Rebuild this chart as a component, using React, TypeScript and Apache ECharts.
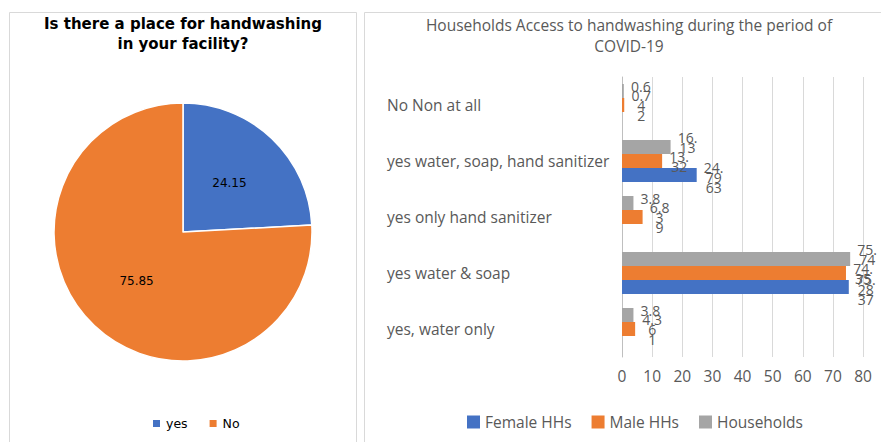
import React, { useEffect, useRef } from "react";
import * as echarts from "echarts";

const pieNames = ["yes", "No"];
const pieValues = [24.15, 75.85];

const categories = [
  "No Non at all",
  "yes water, soap, hand sanitizer",
  "yes only hand sanitizer",
  "yes water & soap",
  "yes, water only",
];
const seriesNames = ["Female HHs", "Male HHs", "Households"];
const femaleValues = [null, 24.7963, null, 75.2837, null];
const maleValues = [0.742, 13.32, 6.839, 74.35, 4.361];
const householdValues = [0.6, 16.13, 3.8, 75.74, 3.8];
const femaleLabels = ["", "24.\n79\n63", "", "75.\n28\n37", ""];
const maleLabels = ["0.7\n4\n2", "13.\n32", "6.8\n3\n9", "74.\n35", "4.3\n6\n1"];
const householdLabels = ["0.6", "16.\n13", "3.8", "75.\n74", "3.8"];
const xTicks = { min: 0, max: 80, interval: 10 };

const BLUE = "#4472C4";
const ORANGE = "#ED7D31";
const GRAY = "#A5A5A5";
const TXT = "#595959";
const FONT = "Open Sans";
const FS = 15.5;

export default function App() {
  const ref = useRef<HTMLDivElement>(null);
  useEffect(() => {
    if (!ref.current) return;
    const chart = echarts.init(ref.current, null, { renderer: "svg" });
    const barLabel = (arr: string[], dy: number) => ({
      show: true,
      position: "right",
      distance: 7,
      formatter: (p: any) => arr[p.dataIndex],
      fontFamily: FONT,
      fontSize: 14,
      lineHeight: 10,
      color: TXT,
      align: "center",
      offset: [10, dy],
    });
    chart.setOption({
      animation: false,
      graphic: [
        {
          type: "rect",
          shape: { x: 9.5, y: 12.5, width: 347, height: 445 },
          style: { fill: "none", stroke: "#d9d9d9", lineWidth: 1 },
          silent: true,
        },
        {
          type: "rect",
          shape: { x: 364.5, y: 12.5, width: 530, height: 445 },
          style: { fill: "none", stroke: "#d9d9d9", lineWidth: 1 },
          silent: true,
        },
      ],
      title: [
        {
          text: "Is there a place for handwashing\nin your facility?",
          left: 178,
          textAlign: "center",
          top: 9,
          textStyle: {
            fontFamily: "DejaVu Sans",
            fontWeight: "bold",
            fontSize: 15,
            lineHeight: 20,
            color: "#000",
          },
        },
        {
          text: "Households Access to handwashing during the period of\nCOVID-19",
          left: 624,
          textAlign: "center",
          top: 9,
          textStyle: {
            fontFamily: FONT,
            fontWeight: "normal",
            fontSize: FS,
            lineHeight: 21,
            color: TXT,
          },
        },
      ],
      legend: [
        {
          data: pieNames,
          left: 146,
          top: 412,
          icon: "rect",
          itemWidth: 9,
          itemHeight: 9,
          itemGap: 20,
          textStyle: { fontFamily: "DejaVu Sans", fontSize: 12.5, color: "#000" },
        },
        {
          data: seriesNames,
          left: 462,
          top: 409,
          icon: "rect",
          itemWidth: 13,
          itemHeight: 13,
          itemGap: 20,
          textStyle: { fontFamily: FONT, fontSize: FS, color: TXT },
        },
      ],
      grid: { left: 622, right: 18, top: 77, height: 280 },
      xAxis: {
        type: "value",
        ...xTicks,
        axisLine: { show: false },
        axisTick: { show: false },
        splitLine: { lineStyle: { color: "#d9d9d9", width: 1 } },
        axisLabel: { fontFamily: FONT, fontSize: FS, color: TXT, margin: 11 },
      },
      yAxis: {
        type: "category",
        data: categories,
        inverse: true,
        axisLine: { lineStyle: { color: "#bfbfbf" } },
        axisTick: { show: false },
        axisLabel: {
          fontFamily: FONT,
          fontSize: FS,
          color: TXT,
          align: "left",
          margin: 235,
        },
      },
      series: [
        {
          type: "pie",
          center: [183, 232],
          radius: 129,
          startAngle: 90,
          clockwise: true,
          data: pieNames.map((n, i) => ({ name: n, value: pieValues[i] })),
          color: [BLUE, ORANGE],
          itemStyle: { borderColor: "#fff", borderWidth: 1.5 },
          label: {
            show: true,
            position: "inner",
            formatter: (p: any) => p.value.toFixed(2),
            fontFamily: "DejaVu Sans",
            fontSize: 12,
            color: "#000",
          },
          labelLine: { show: false },
        },
        {
          type: "bar",
          name: "Households",
          data: householdValues,
          itemStyle: { color: GRAY },
          barGap: "0%",
          barCategoryGap: "25%",
          label: barLabel(householdLabels, -5),
        },
        {
          type: "bar",
          name: "Male HHs",
          data: maleValues,
          itemStyle: { color: ORANGE },
          barGap: "0%",
          barCategoryGap: "25%",
          label: barLabel(maleLabels, 0),
        },
        {
          type: "bar",
          name: "Female HHs",
          data: femaleValues,
          itemStyle: { color: BLUE },
          barGap: "0%",
          barCategoryGap: "25%",
          label: barLabel(femaleLabels, 2),
        },
      ],
    });
    return () => chart.dispose();
  }, []);
  return (
    <div
      ref={ref}
      style={{ position: "fixed", left: 0, top: 0, width: 881, height: 442, background: "#fff" }}
    />
  );
}
